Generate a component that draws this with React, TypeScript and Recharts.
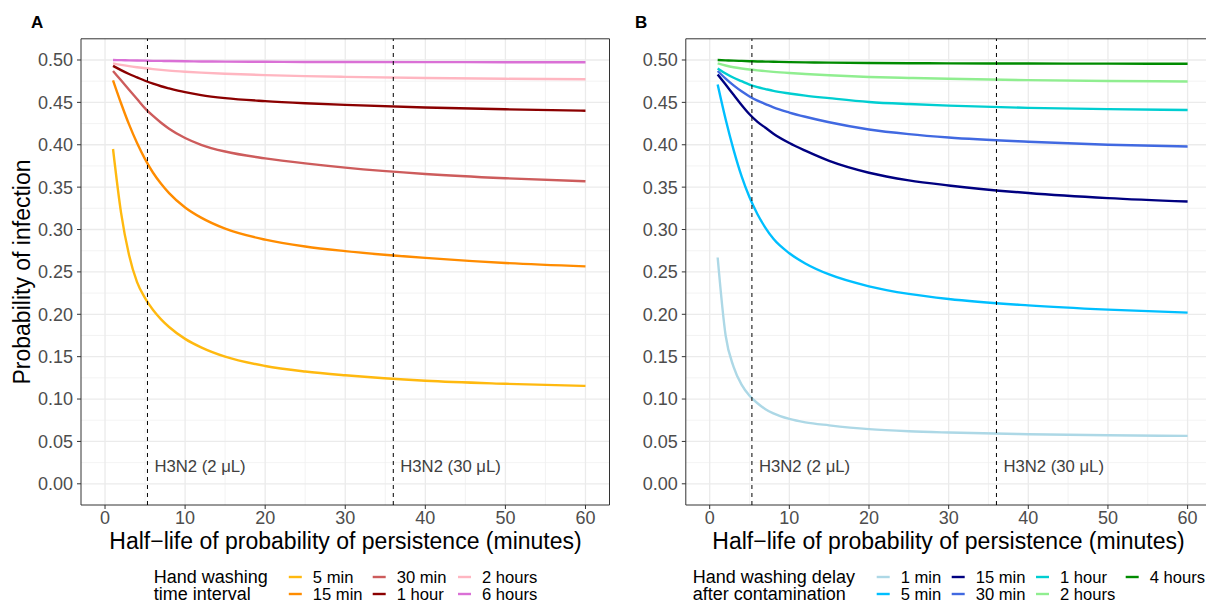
import { LineChart, Line, XAxis, YAxis, CartesianGrid, ReferenceLine, ReferenceArea } from "recharts"

const FONT = '"Liberation Sans", Arial, Helvetica, sans-serif'

// ------------------------------------------------------------------
// Data
// ------------------------------------------------------------------

const halfLife = [1, 2, 3, 4, 5, 6, 7, 8, 10, 12, 15, 20, 25, 30, 40, 50, 60]

// Panel A: hand washing time interval
const every5min = [0.395, 0.32, 0.27, 0.238, 0.219, 0.205, 0.194, 0.185, 0.171, 0.161, 0.15, 0.139, 0.1325, 0.128, 0.1215, 0.118, 0.1155]
const every15min = [0.476, 0.449, 0.424, 0.402, 0.383, 0.367, 0.354, 0.343, 0.326, 0.314, 0.301, 0.288, 0.28, 0.2745, 0.2665, 0.2605, 0.2565]
const every30min = [0.487, 0.476, 0.465, 0.454, 0.443, 0.434, 0.426, 0.419, 0.408, 0.4, 0.392, 0.384, 0.378, 0.373, 0.3655, 0.3605, 0.357]
const every1h = [0.493, 0.488, 0.4835, 0.4795, 0.4755, 0.472, 0.469, 0.4665, 0.462, 0.4585, 0.455, 0.4515, 0.449, 0.447, 0.444, 0.4418, 0.4402]
const every2h = [0.496, 0.4942, 0.4927, 0.4914, 0.4902, 0.4892, 0.4883, 0.4875, 0.4862, 0.4851, 0.4838, 0.4822, 0.481, 0.4801, 0.4787, 0.4778, 0.4772]
const every6h = [0.5, 0.4998, 0.4996, 0.4994, 0.4992, 0.499, 0.4989, 0.4988, 0.4985, 0.4983, 0.4981, 0.4979, 0.4977, 0.4976, 0.4975, 0.4974, 0.4973]

// Panel B: hand washing delay after contamination
const delay1min = [0.267, 0.175, 0.138, 0.117, 0.104, 0.095, 0.088, 0.083, 0.0765, 0.0725, 0.069, 0.0645, 0.062, 0.0605, 0.0585, 0.0572, 0.0565]
const delay5min = [0.471, 0.43, 0.394, 0.363, 0.338, 0.318, 0.302, 0.289, 0.272, 0.26, 0.247, 0.233, 0.224, 0.218, 0.2105, 0.2055, 0.202]
const delay15min = [0.483, 0.471, 0.459, 0.447, 0.436, 0.427, 0.42, 0.413, 0.402, 0.393, 0.381, 0.367, 0.358, 0.352, 0.343, 0.337, 0.333]
const delay30min = [0.487, 0.478, 0.47, 0.463, 0.457, 0.452, 0.448, 0.444, 0.438, 0.433, 0.4265, 0.418, 0.4125, 0.4085, 0.4035, 0.4, 0.398]
const delay1h = [0.49, 0.484, 0.479, 0.475, 0.471, 0.468, 0.4657, 0.4635, 0.4605, 0.458, 0.455, 0.4505, 0.448, 0.4462, 0.4435, 0.442, 0.441]
const delay2h = [0.496, 0.4935, 0.4915, 0.49, 0.4888, 0.4878, 0.4869, 0.486, 0.4846, 0.4835, 0.482, 0.48, 0.4788, 0.4778, 0.4762, 0.4752, 0.4747]
const delay4h = [0.5, 0.4996, 0.4992, 0.4989, 0.4986, 0.4983, 0.4981, 0.4979, 0.4975, 0.4972, 0.4969, 0.4965, 0.4962, 0.496, 0.4958, 0.4957, 0.4956]

const xTicks = [0, 10, 20, 30, 40, 50, 60]
const xMinor = [5, 15, 25, 35, 45, 55]
const yTicks = [0, 0.05, 0.1, 0.15, 0.2, 0.25, 0.3, 0.35, 0.4, 0.45, 0.5]
const yMinor = [0.025, 0.075, 0.125, 0.175, 0.225, 0.275, 0.325, 0.375, 0.425, 0.475]

const markers = [
    { x: 5.3, label: "H3N2 (2 μL)" },
    { x: 36, label: "H3N2 (30 μL)" },
]

interface Series {
    key: string
    name: string
    color: string
    values: number[]
}

const seriesA: Series[] = [
    { key: "m5", name: "5 min", color: "#FFB90F", values: every5min },
    { key: "m15", name: "15 min", color: "#FF8C00", values: every15min },
    { key: "m30", name: "30 min", color: "#CD5C5C", values: every30min },
    { key: "h1", name: "1 hour", color: "#8B0000", values: every1h },
    { key: "h2", name: "2 hours", color: "#FFB6C1", values: every2h },
    { key: "h6", name: "6 hours", color: "#DA70D6", values: every6h },
]

const seriesB: Series[] = [
    { key: "m1", name: "1 min", color: "#ADD8E6", values: delay1min },
    { key: "m5", name: "5 min", color: "#00BFFF", values: delay5min },
    { key: "m15", name: "15 min", color: "#000080", values: delay15min },
    { key: "m30", name: "30 min", color: "#4169E1", values: delay30min },
    { key: "h1", name: "1 hour", color: "#00CED1", values: delay1h },
    { key: "h2", name: "2 hours", color: "#90EE90", values: delay2h },
    { key: "h4", name: "4 hours", color: "#008B00", values: delay4h },
]

// ------------------------------------------------------------------
// Panel
// ------------------------------------------------------------------

function MarkerLabel(props: any) {
    const vb = props.viewBox || { x: 0, y: 0, height: 0 }
    return (
        <text
            x={vb.x + 7}
            y={vb.y + vb.height - 39}
            dominantBaseline="central"
            fontSize={16.7}
            fill="#404040"
            fontFamily={FONT}
        >
            {props.text}
        </text>
    )
}

function Panel({ series, left, width, yAxisWidth, rightMargin }: {
    series: Series[]
    left: number
    width: number
    yAxisWidth: number
    rightMargin: number
}) {
    const data = halfLife.map((x, i) => {
        const row: Record<string, number> = { x }
        series.forEach((s) => (row[s.key] = s.values[i]))
        return row
    })
    const tickStyle = { fill: "#4D4D4D", fontSize: 18, fontFamily: FONT }

    return (
        <div style={{ position: "absolute", left, top: 0 }}>
            <LineChart
                width={width}
                height={603}
                data={data}
                margin={{ top: 38.8, right: rightMargin, left: 0, bottom: 68 }}
            >
                <CartesianGrid stroke="#F0F0F0" strokeWidth={0.8} verticalValues={xMinor} horizontalValues={yMinor} />
                <CartesianGrid stroke="#EBEBEB" strokeWidth={1.3} verticalValues={xTicks} horizontalValues={yTicks} />
                <XAxis
                    type="number"
                    dataKey="x"
                    domain={[-3, 63]}
                    ticks={xTicks}
                    allowDataOverflow
                    height={30}
                    tick={tickStyle}
                    tickLine={{ stroke: "#333333" }}
                    tickSize={4}
                    tickMargin={2}
                    axisLine={false}
                />
                <YAxis
                    type="number"
                    domain={[-0.025, 0.525]}
                    ticks={yTicks}
                    allowDataOverflow
                    width={yAxisWidth}
                    tick={tickStyle}
                    tickFormatter={(v: number) => v.toFixed(2)}
                    tickLine={{ stroke: "#333333" }}
                    tickSize={4}
                    tickMargin={4}
                    axisLine={false}
                />
                {series.map((s) => (
                    <Line
                        key={s.key}
                        type="monotone"
                        dataKey={s.key}
                        stroke={s.color}
                        strokeWidth={2.4}
                        dot={false}
                        activeDot={false}
                        isAnimationActive={false}
                    />
                ))}
                {markers.map((m) => (
                    <ReferenceLine
                        key={m.label}
                        x={m.x}
                        stroke="#000000"
                        strokeWidth={1}
                        strokeDasharray="4 4"
                        label={<MarkerLabel text={m.label} />}
                    />
                ))}
                <ReferenceArea
                    x1={-3}
                    x2={63}
                    y1={-0.025}
                    y2={0.525}
                    fill="none"
                    fillOpacity={0}
                    stroke="#333333"
                    strokeWidth={1}
                    ifOverflow="visible"
                />
            </LineChart>
        </div>
    )
}

// ------------------------------------------------------------------
// Legend + titles (overlay)
// ------------------------------------------------------------------

function LegendBlock({ title, series, titleX, textX }: {
    title: string[]
    series: Series[]
    titleX: number
    textX: number[]
}) {
    const rows = [577, 594]
    return (
        <g fontFamily={FONT}>
            {title.map((t, i) => (
                <text key={t} x={titleX} y={rows[i] + 6.3} fontSize={18} fill="#000">
                    {t}
                </text>
            ))}
            {series.map((s, i) => {
                const col = Math.floor(i / 2)
                const y = rows[i % 2]
                const tx = textX[col]
                return (
                    <g key={s.key}>
                        <line x1={tx - 24} x2={tx - 11} y1={y} y2={y} stroke={s.color} strokeWidth={2.4} />
                        <text x={tx} y={y + 6} fontSize={16.6} fill="#000">
                            {s.name}
                        </text>
                    </g>
                )
            })}
        </g>
    )
}

export default function App() {
    return (
        <div
            style={{
                position: "fixed",
                left: 0,
                top: 0,
                width: 1206,
                height: 603,
                overflow: "hidden",
                background: "#fff",
                fontFamily: FONT,
            }}
        >
            <Panel series={seriesA} left={0} width={612} yAxisWidth={81} rightMargin={2.5} />
            <Panel series={seriesB} left={600} width={615} yAxisWidth={85.8} rightMargin={3.5} />
            <svg
                width={1206}
                height={603}
                style={{ position: "absolute", left: 0, top: 0, pointerEvents: "none" }}
                fontFamily={FONT}
            >
                <text x={31} y={28.3} fontSize={17} fontWeight="bold">A</text>
                <text x={635} y={28.3} fontSize={17} fontWeight="bold">B</text>
                <text transform="translate(30,272) rotate(-90)" textAnchor="middle" fontSize={23}>
                    Probability of infection
                </text>
                <text x={345.5} y={549} textAnchor="middle" fontSize={23}>
                    Half−life of probability of persistence (minutes)
                </text>
                <text x={948.5} y={549} textAnchor="middle" fontSize={23}>
                    Half−life of probability of persistence (minutes)
                </text>
                <LegendBlock
                    title={["Hand washing", "time interval"]}
                    series={seriesA}
                    titleX={153.8}
                    textX={[312.8, 396.7, 482]}
                />
                <LegendBlock
                    title={["Hand washing delay", "after contamination"]}
                    series={seriesB}
                    titleX={692.8}
                    textX={[900.7, 975.7, 1060, 1149.7]}
                />
            </svg>
        </div>
    )
}
